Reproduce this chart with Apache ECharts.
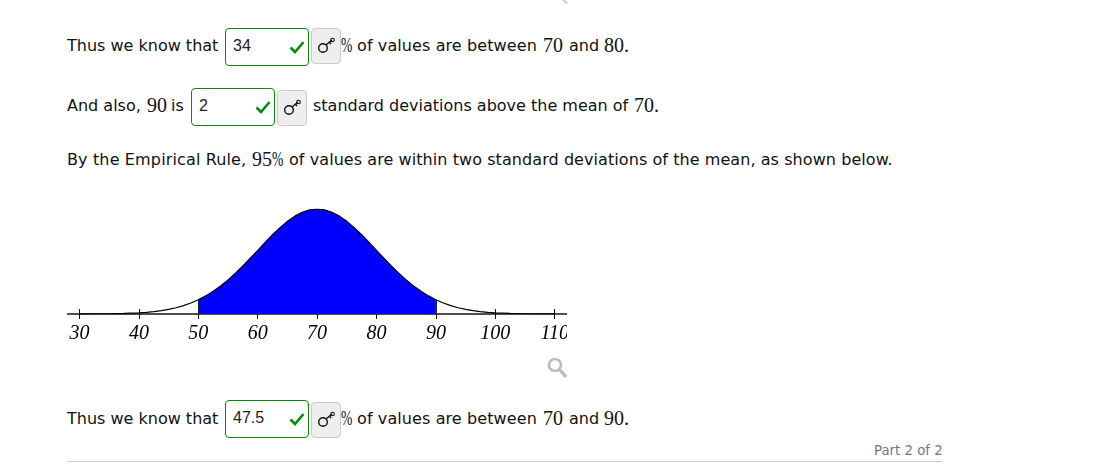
<!DOCTYPE html>
<html><head><meta charset="utf-8">
<script src="https://cdn.jsdelivr.net/npm/echarts@6/dist/echarts.min.js"></script>
<style>
html,body{margin:0;padding:0;background:#fff;width:1093px;height:464px;overflow:hidden}
.t{position:absolute;white-space:pre;font:16px "DejaVu Sans",sans-serif;color:#111;line-height:20px}
.m{font-family:"Liberation Serif",serif;font-size:20px}
.p{font-family:"Liberation Serif",serif;font-size:20px;transform:scaleX(.68);transform-origin:left center}
.box{position:absolute;box-sizing:border-box;border:1px solid #0a8a0a;border-radius:4px;height:38px;font:16px "Liberation Sans",sans-serif;color:#222;padding:8px 0 0 7px;background:#fff}
.box svg{position:absolute;right:3px;top:11px}
.key{position:absolute;box-sizing:border-box;width:30px;height:36px;border:1px solid #ccc;border-radius:4px;background:#eee}
.key svg{position:absolute;left:5px;top:7px}
#chart{position:absolute;left:67px;top:190px;width:500px;height:190px}
#rule{position:absolute;left:67px;top:461px;width:875px;height:1px;background:#ccc}
#tear{position:absolute;left:561px;top:0;width:7px;height:2px;background:#ccc;transform:rotate(45deg)}
</style></head><body>
<div id="page"></div>
<div id="chart"></div>
<div id="rule"></div>
<div id="tear"></div>
<script>
var xValues=[30,35,37.5,40,41.25,42.5,43.75,45,46.25,47.5,48.75,50,51.25,52.5,53.75,55,56.25,57.5,58.75,60,61.25,62.5,63.75,65,66.25,67.5,68.75,70,71.25,72.5,73.75,75,76.25,77.5,78.75,80,81.25,82.5,83.75,85,86.25,87.5,88.75,90,91.25,92.5,93.75,95,96.25,97.5,98.75,100,102.5,105,110];
var density=[0.00001,0.00009,0.00024,0.00044,0.00064,0.00091,0.00127,0.00175,0.00238,0.00317,0.00417,0.0054,0.00688,0.00863,0.01065,0.01295,0.01551,0.01826,0.02119,0.0242,0.02721,0.03011,0.03282,0.03521,0.03719,0.03867,0.03958,0.03989,0.03958,0.03867,0.03719,0.03521,0.03282,0.03011,0.02721,0.0242,0.02119,0.01826,0.01551,0.01295,0.01065,0.00863,0.00688,0.0054,0.00417,0.00317,0.00238,0.00175,0.00127,0.00091,0.00064,0.00044,0.00024,0.00009,0.00001];
var shadeFrom=50, shadeTo=90;

var curve=xValues.map(function(x,i){return [x,density[i]];});
var shaded=curve.filter(function(p){return p[0]>=shadeFrom&&p[0]<=shadeTo;});

var pre=document.createElement('canvas').getContext('2d');
pre.font='italic 20px "Liberation Serif"';pre.fillText('0123456789',0,20);

var chart=echarts.init(document.getElementById('chart'));
chart.setOption({
  animation:false,
  grid:{left:-46.9,width:594,top:19,height:105,outerBoundsMode:'none'},
  xAxis:[
    {type:'value',min:20,max:120,interval:10,position:'bottom',
      axisLine:{show:true,onZero:false,lineStyle:{color:'#444',width:1.5}},splitLine:{show:false},
      axisTick:{show:true,length:5,lineStyle:{color:'#111',width:1}},
      axisLabel:{margin:10,color:'#000',fontFamily:'Liberation Serif',fontStyle:'italic',fontSize:20}},
    {type:'value',min:20,max:120,interval:10,position:'bottom',
      axisLine:{show:true,onZero:false,lineStyle:{color:'#444',width:1.5}},splitLine:{show:false},
      axisTick:{show:true,inside:true,length:5,lineStyle:{color:'#111',width:1}},
      axisLabel:{show:false}}
  ],
  yAxis:{type:'value',min:0,max:0.0399,show:false},
  series:[
    {type:'line',data:shaded,smooth:false,symbol:'none',lineStyle:{width:0},areaStyle:{color:'#0000ff',opacity:1},z:3},
    {type:'line',data:curve,smooth:false,symbol:'none',lineStyle:{color:'#000',width:1.2},z:4,
     markLine:{silent:true,symbol:'none',label:{show:false},lineStyle:{color:'#222',width:1,type:'solid'},
       data:[
         [{coord:[shadeFrom,0]},{coord:[shadeFrom,density[xValues.indexOf(shadeFrom)]]}],
         [{coord:[shadeTo,0]},{coord:[shadeTo,density[xValues.indexOf(shadeTo)]]}]
       ]}}
  ],
  graphic:[
    {type:'circle',x:488,y:175,shape:{r:6},style:{fill:'none',stroke:'#bbb',lineWidth:2.6}},
    {type:'line',shape:{x1:493,y1:180,x2:499,y2:187},style:{stroke:'#bbb',lineWidth:3.4}}
  ]
});

var check='<svg width="16" height="14" viewBox="0 0 16 14"><path d="M1.5 7.5 L6 12 L14.5 2" fill="none" stroke="#0a8a0a" stroke-width="2.6"/></svg>';
var keyIcon='<svg width="20" height="20" viewBox="0 0 20 20"><circle cx="6" cy="12" r="4.3" fill="none" stroke="#111" stroke-width="1.4"/><path d="M9 9 L15 4 M12.5 6.2 l1.6 1.8" fill="none" stroke="#111" stroke-width="1.4"/><circle cx="15.5" cy="4" r="1.8" fill="none" stroke="#111" stroke-width="1.1"/></svg>';
var page=document.getElementById('page');
function t(x,y,s,cls,ls){var d=document.createElement('div');d.className='t '+(cls||'');d.style.left=x+'px';d.style.top=y+'px';if(ls)d.style.letterSpacing=ls+'px';d.textContent=s;page.appendChild(d);}
function box(x,y,w,v){var d=document.createElement('div');d.className='box';d.style.cssText='left:'+x+'px;top:'+y+'px;width:'+w+'px';d.innerHTML=v+check;page.appendChild(d);}
function key(x,y){var d=document.createElement('div');d.className='key';d.style.cssText='left:'+x+'px;top:'+y+'px';d.innerHTML=keyIcon;page.appendChild(d);}

t(67,36,'Thus we know that');box(225,28,84,'34');key(311,28);
t(341,35,'%','p');t(357,36,'of values are between','',0.1);t(543,35,'70','m');t(569,36,'and');t(604,35,'80.','m');
t(67,96,'And also,');t(147,95,'90','m');t(171,96,'is');box(191,88,84,'2');key(277,90);
t(313,96,'standard deviations above the mean of');t(634,95,'70.','m');
t(67,150,'By the Empirical Rule,','',0.14);t(252,149,'95','m');t(272,149,'%','p');t(289,150,'of values are within two standard deviations of the mean, as shown below.','',0.07);
t(67,409,'Thus we know that');box(225,400,84,'47.5');key(311,402);
t(341,408,'%','p');t(357,409,'of values are between','',0.1);t(543,408,'70','m');t(569,409,'and');t(604,408,'90.','m');
var p=document.createElement('div');p.className='t';p.style.cssText='left:874px;top:441px;font-size:13.3px;color:#777';p.textContent='Part 2 of 2';page.appendChild(p);
</script></body></html>
